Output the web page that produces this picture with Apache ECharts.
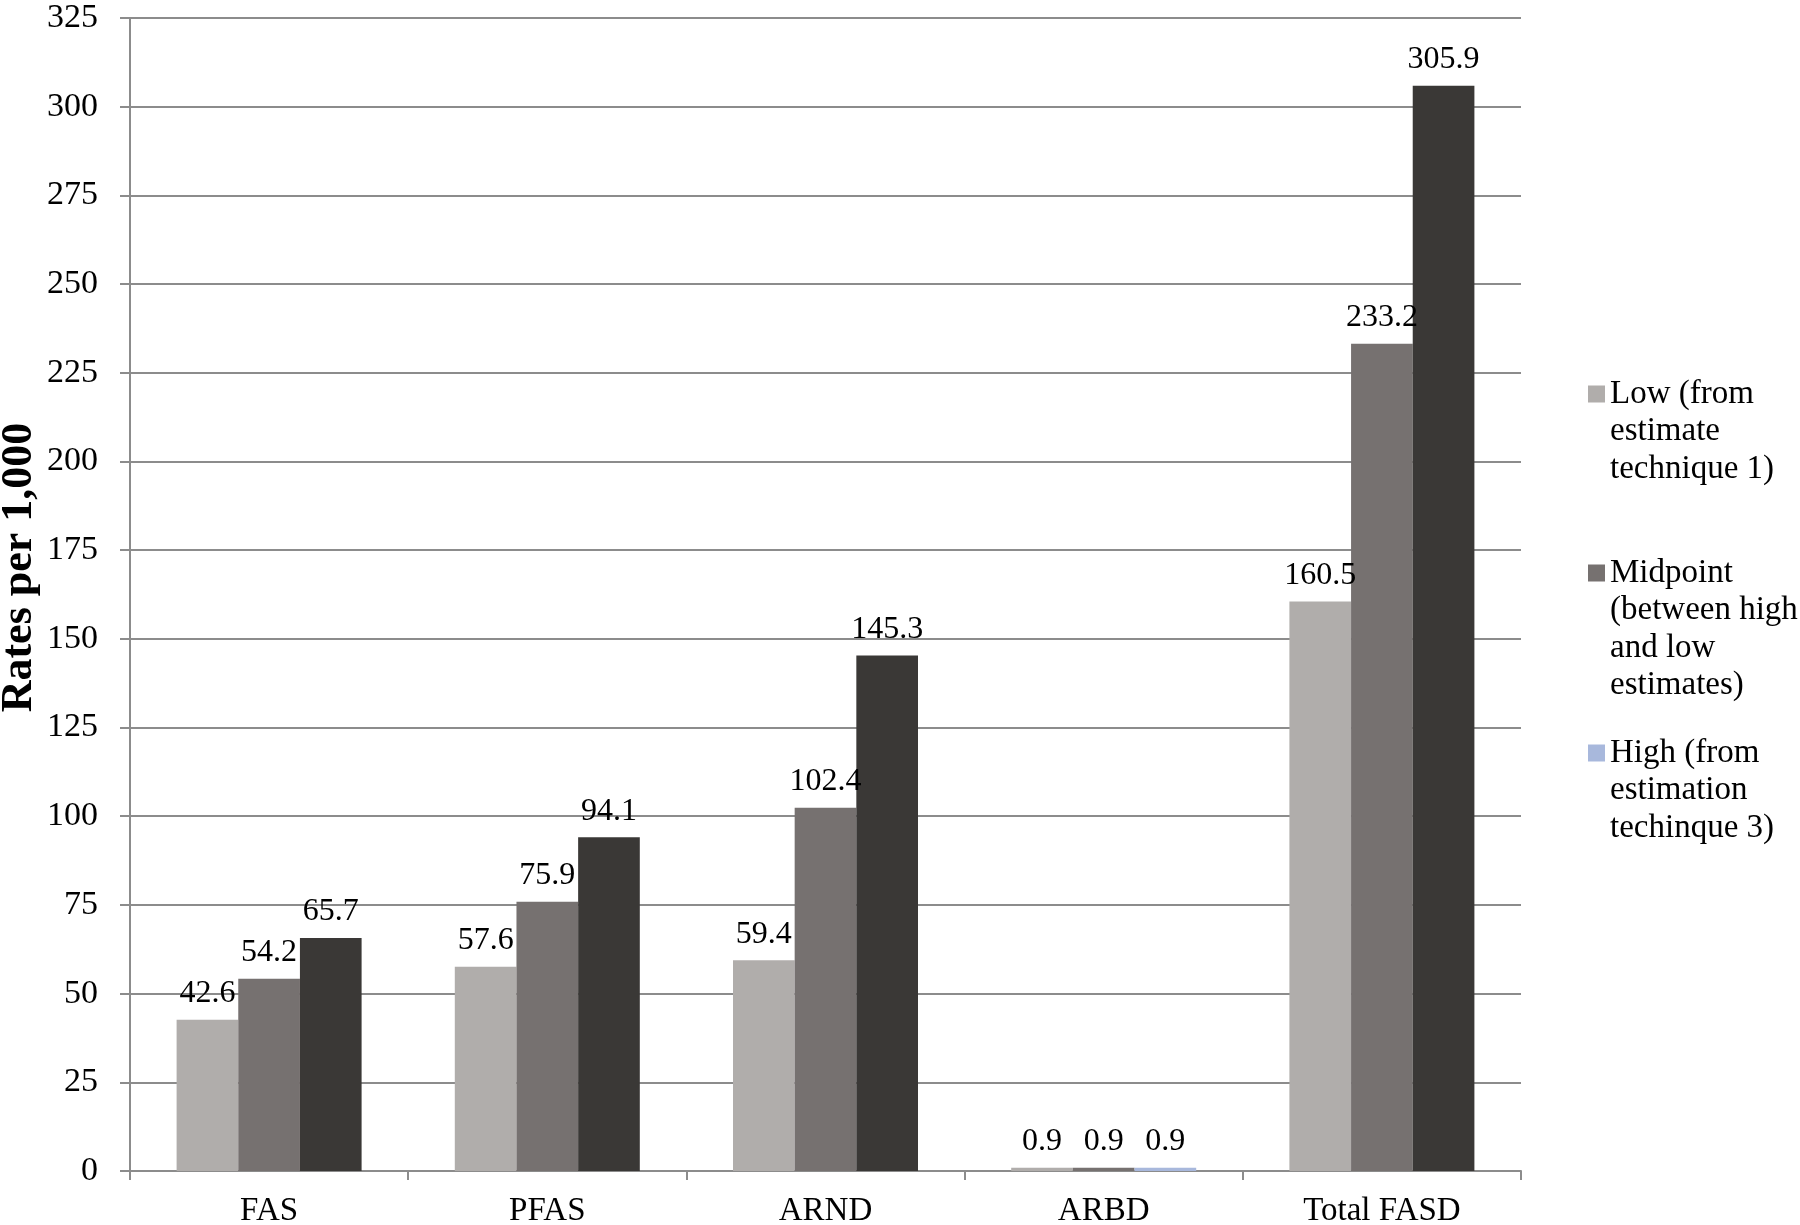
<!DOCTYPE html>
<html>
<head>
<meta charset="utf-8">
<script src="https://cdn.jsdelivr.net/npm/echarts@6/dist/echarts.min.js"></script>
<style>html,body{margin:0;padding:0;background:#fff}#c{width:1800px;height:1225px}</style>
</head>
<body>
<div id="c"></div>
<script>
const categories = ['FAS', 'PFAS', 'ARND', 'ARBD', 'Total FASD'];
const lowValues = [42.6, 57.6, 59.4, 0.9, 160.5];
const midValues = [54.2, 75.9, 102.4, 0.9, 233.2];
const highValues = [65.7, 94.1, 145.3, 0.9, 305.9];
const seriesNames = [
  'Low (from\nestimate\ntechnique 1)',
  'Midpoint\n(between high\nand low\nestimates)',
  'High (from\nestimation\ntechinque 3)'
];
const yTicks = { min: 0, max: 325, interval: 25 };

const FONT = 'Liberation Serif';
const LINE = '#8c8c8c';
const C_LOW = '#b0adab', C_MID = '#767170', C_HIGH = '#3a3836', C_HIGH_LEG = '#a8b8dc';
const LEG_LH = 37.5;

const chart = echarts.init(document.getElementById('c'));

const labelCfg = {
  show: true, position: 'top', distance: 10,
  fontFamily: FONT, fontSize: 32, color: '#000',
  formatter: p => p.value.toFixed(1)
};

// place the icon beside the first line: pad the text above with empty lines
function legendFor(name, iconCenterY) {
  const n = name.split('\n').length;
  const total = 2 * n - 1;
  const top = iconCenterY - total * LEG_LH / 2;
  return {
    orient: 'vertical', left: 1583, top: top,
    itemWidth: 17, itemHeight: 17, itemGap: 0,
    formatter: nm => '\n'.repeat(n - 1) + nm,
    textStyle: { fontFamily: FONT, fontSize: 33, lineHeight: LEG_LH, color: '#000' },
    data: [{ name: name, icon: 'rect' }]
  };
}

chart.setOption({
  animation: false,
  backgroundColor: '#fff',
  grid: { left: 130, right: 279, top: 18, bottom: 54, containLabel: false, outerBoundsMode: 'none' },
  legend: [
    legendFor(seriesNames[0], 389),
    legendFor(seriesNames[1], 568),
    legendFor(seriesNames[2], 748)
  ],
  xAxis: {
    type: 'category', data: categories,
    axisLine: { lineStyle: { color: LINE, width: 2 } },
    axisTick: { show: true, length: 9, inside: false, lineStyle: { color: LINE, width: 2 } },
    axisLabel: { fontFamily: FONT, fontSize: 33, color: '#000', margin: 24 }
  },
  yAxis: {
    type: 'value', min: yTicks.min, max: yTicks.max, interval: yTicks.interval,
    name: 'Rates per 1,000', nameLocation: 'middle', nameGap: 88, nameMoveOverlap: false,
    nameTextStyle: { fontFamily: FONT, fontSize: 44, fontWeight: 'bold', color: '#000', padding: [0, 0, 0, 54] },
    axisLine: { show: true, lineStyle: { color: LINE, width: 2 } },
    axisTick: { show: true, length: 10, lineStyle: { color: LINE, width: 2 } },
    axisLabel: { fontFamily: FONT, fontSize: 34, color: '#000', margin: 32 },
    splitLine: { show: true, lineStyle: { color: LINE, width: 2 } }
  },
  series: [
    { name: seriesNames[0], type: 'bar', data: lowValues, itemStyle: { color: C_LOW },
      barGap: '0%', barCategoryGap: '33.5%', label: labelCfg },
    { name: seriesNames[1], type: 'bar', data: midValues, itemStyle: { color: C_MID },
      barGap: '0%', barCategoryGap: '33.5%', label: labelCfg },
    { name: seriesNames[2], type: 'bar', itemStyle: { color: C_HIGH_LEG },
      data: highValues.map((v, i) => ({ value: v, itemStyle: { color: categories[i] === 'ARBD' ? C_HIGH_LEG : C_HIGH } })),
      barGap: '0%', barCategoryGap: '33.5%', label: labelCfg }
  ]
});
</script>
</body>
</html>
